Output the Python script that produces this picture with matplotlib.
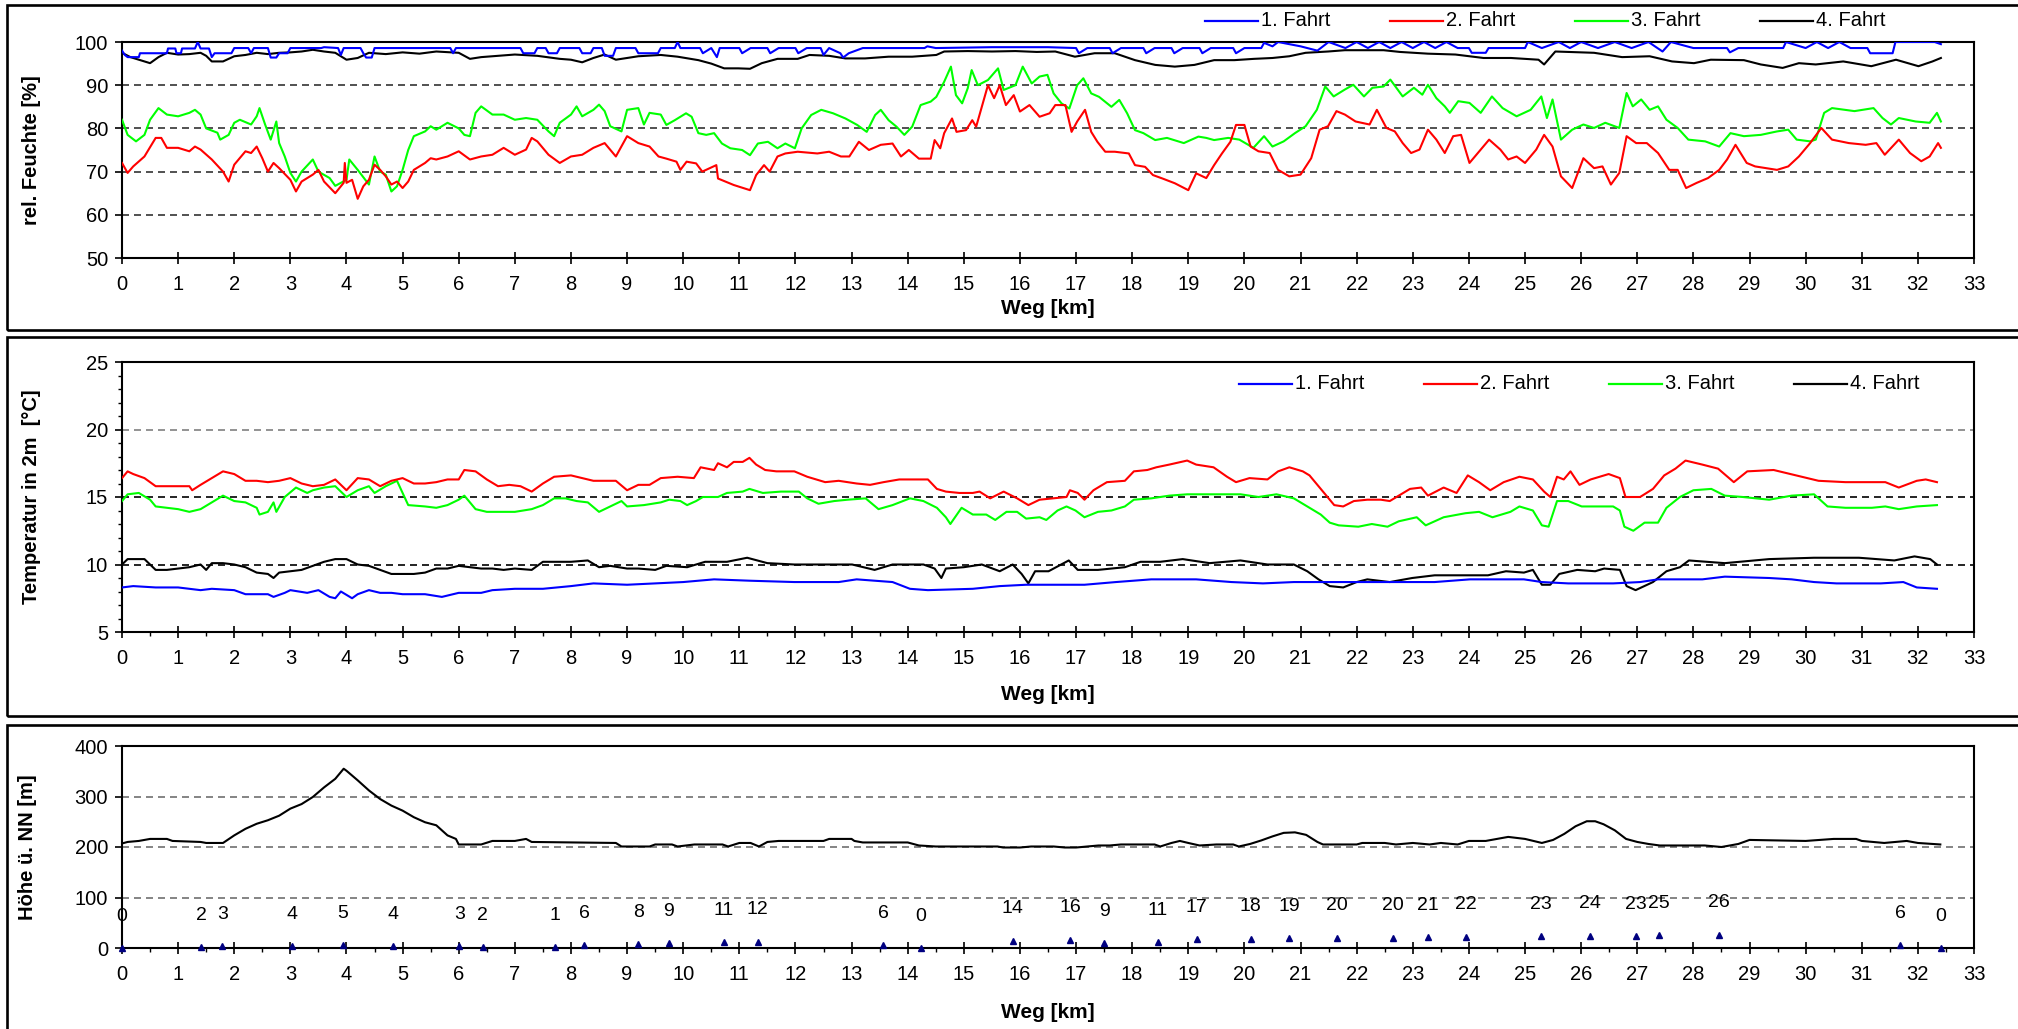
import matplotlib
matplotlib.use("Agg")
import matplotlib.pyplot as plt
from matplotlib.lines import Line2D
from matplotlib.patches import Rectangle
from matplotlib.ticker import MultipleLocator

plt.rcParams['font.family'] = ['Liberation Sans', 'DejaVu Sans']

# ---------------- data: relative humidity [%] ----------------
rh1_km = [0.0,0.05,0.1,0.3,0.32,0.8,0.82,0.95,0.97,1.05,1.07,1.3,1.35,1.4,1.55,1.6,1.65,1.95,2.0,2.25,2.3,2.35,2.6,2.65,2.75,2.8,2.95,3.0,3.55,3.6,3.85,3.9,3.95,4.25,4.3,4.35,4.45,4.5,5.85,5.9,5.95,7.1,7.15,7.35,7.4,7.55,7.6,7.75,7.8,8.15,8.2,8.35,8.4,8.55,8.6,8.75,8.8,9.15,9.2,9.55,9.6,9.85,9.9,9.95,10.3,10.35,10.5,10.6,10.65,11.0,11.05,11.2,11.5,11.55,11.7,12.0,12.05,12.2,12.45,12.5,12.6,12.8,12.85,12.95,13.2,14.3,14.35,14.5,15.5,16.5,17.0,17.05,17.2,17.6,17.65,17.8,18.2,18.25,18.4,18.7,18.75,18.9,19.2,19.25,19.4,19.8,19.85,20.0,20.3,20.35,20.5,20.6,21.0,21.3,21.5,21.8,22.0,22.2,22.4,22.6,22.8,23.0,23.2,23.4,23.6,23.8,24.0,24.05,24.3,24.35,25.0,25.05,25.3,25.6,25.8,26.0,26.3,26.6,26.9,27.2,27.45,27.6,28.0,28.6,28.65,28.8,29.6,29.65,30.0,30.2,30.4,30.6,30.8,31.1,31.15,31.55,31.6,32.3,32.41]
rh1 = [98.0,97.0,96.5,96.5,97.4,97.4,98.5,98.5,97.4,97.4,98.5,98.5,100.0,98.5,98.5,96.5,97.4,97.4,98.6,98.6,97.4,98.6,98.6,96.4,96.4,97.4,97.4,98.6,98.6,98.8,98.6,97.0,98.6,98.6,97.4,96.4,96.4,98.6,98.6,97.4,98.6,98.6,97.4,97.4,98.6,98.6,97.4,97.4,98.6,98.6,97.4,97.4,98.6,98.6,96.8,96.8,98.6,98.6,97.4,97.4,98.6,98.6,100.0,98.6,98.6,97.4,98.6,96.5,98.6,98.6,97.4,98.6,98.6,97.4,98.6,98.6,97.4,98.6,98.6,97.0,98.6,97.4,96.4,97.4,98.6,98.6,99.0,98.6,98.8,98.8,98.6,97.4,98.6,98.6,97.4,98.6,98.6,97.4,98.6,98.6,97.4,98.6,98.6,97.4,98.6,98.6,97.4,98.6,98.6,99.8,99.0,100.0,99.0,98.0,100.0,98.6,100.0,98.6,100.0,98.6,100.0,98.6,100.0,98.6,100.0,98.6,98.6,97.5,97.5,98.6,98.6,100.0,98.6,100.0,98.6,100.0,98.6,100.0,98.6,100.0,97.8,100.0,98.6,98.6,97.6,98.6,98.6,100.0,98.6,100.0,98.6,100.0,98.6,98.6,97.4,97.4,100.0,100.0,99.5]

rh2_km = [0.0,0.1,0.2,0.4,0.6,0.7,0.8,1.0,1.2,1.3,1.4,1.6,1.8,1.9,2.0,2.2,2.3,2.4,2.5,2.6,2.7,2.8,3.0,3.1,3.2,3.4,3.5,3.6,3.8,3.95,3.97,4.0,4.1,4.2,4.3,4.4,4.5,4.6,4.7,4.8,4.9,5.0,5.1,5.2,5.4,5.5,5.6,5.8,6.0,6.2,6.4,6.6,6.8,7.0,7.2,7.3,7.4,7.6,7.8,8.0,8.2,8.4,8.6,8.8,9.0,9.2,9.4,9.56,9.7,9.88,9.95,10.06,10.23,10.34,10.59,10.62,10.9,11.19,11.3,11.44,11.54,11.68,11.82,12.04,12.39,12.6,12.81,12.96,13.13,13.31,13.52,13.73,13.88,14.02,14.2,14.41,14.48,14.58,14.65,14.79,14.87,15.04,15.15,15.22,15.33,15.43,15.54,15.64,15.75,15.89,16.0,16.17,16.35,16.53,16.63,16.81,16.92,17.02,17.16,17.27,17.38,17.52,17.69,17.94,18.05,18.23,18.37,18.54,18.76,19.0,19.14,19.32,19.46,19.6,19.75,19.85,20.0,20.11,20.25,20.45,20.6,20.8,21.0,21.19,21.34,21.49,21.64,21.79,21.98,22.23,22.36,22.53,22.68,22.82,22.97,23.12,23.27,23.42,23.57,23.72,23.86,24.01,24.16,24.36,24.56,24.7,24.85,25.0,25.2,25.34,25.49,25.64,25.84,26.04,26.23,26.38,26.53,26.68,26.81,26.98,27.17,27.37,27.57,27.72,27.87,28.06,28.26,28.46,28.6,28.75,28.95,29.1,29.3,29.49,29.69,29.88,30.08,30.28,30.47,30.77,31.07,31.26,31.41,31.66,31.86,32.06,32.21,32.36,32.41]
rh2 = [72.0,69.7,71.2,73.5,77.8,77.8,75.5,75.5,74.7,75.8,75.1,72.8,70.0,67.7,71.6,74.7,74.3,75.8,73.1,70.0,72.0,70.8,68.1,65.4,67.7,69.3,70.4,67.7,65.0,67.4,72.0,67.4,68.1,63.7,66.6,68.1,71.6,70.4,68.9,67.0,67.7,66.2,67.7,70.4,72.0,73.1,72.8,73.5,74.7,72.8,73.5,73.9,75.5,73.9,75.1,77.8,77.0,73.9,72.0,73.5,73.9,75.5,76.6,73.5,78.2,76.6,75.8,73.5,73.0,72.3,70.4,72.3,71.9,70.0,71.5,68.4,66.9,65.7,69.2,71.5,70.0,73.5,74.2,74.6,74.2,74.6,73.5,73.5,76.9,75.0,76.2,76.5,73.5,75.0,73.0,73.0,77.3,75.4,78.9,82.3,79.2,79.6,81.9,80.4,85.4,90.0,87.0,90.0,85.4,87.7,83.9,85.4,82.7,83.5,85.4,85.4,79.2,81.6,84.3,79.2,76.9,74.6,74.6,74.2,71.5,71.1,69.2,68.4,67.3,65.7,69.6,68.5,71.5,74.2,76.9,80.8,80.8,75.8,74.7,74.3,70.4,68.9,69.3,73.1,79.7,80.5,84.0,83.2,81.6,80.9,84.3,80.1,79.3,76.6,74.3,75.1,79.7,77.4,74.3,78.2,78.5,72.0,74.3,77.4,75.1,72.8,73.5,72.0,75.1,78.5,75.8,68.9,66.2,73.1,70.8,71.2,67.0,69.7,78.2,76.6,76.6,74.3,70.4,70.4,66.2,67.4,68.5,70.4,72.8,76.2,72.0,71.2,70.8,70.4,71.2,73.5,76.6,80.1,77.4,76.6,76.2,76.6,73.9,77.4,74.3,72.4,73.5,76.6,75.5]

rh3_km = [0.0,0.1,0.25,0.4,0.5,0.65,0.8,1.0,1.2,1.3,1.4,1.5,1.7,1.75,1.9,2.0,2.1,2.3,2.4,2.45,2.55,2.65,2.75,2.8,2.9,3.0,3.1,3.2,3.4,3.5,3.7,3.8,4.0,4.05,4.2,4.4,4.5,4.6,4.7,4.8,4.9,5.0,5.1,5.2,5.4,5.5,5.6,5.8,6.0,6.1,6.2,6.3,6.4,6.6,6.8,7.0,7.2,7.4,7.6,7.7,7.8,8.0,8.1,8.2,8.4,8.5,8.6,8.7,8.9,9.0,9.2,9.3,9.4,9.6,9.7,9.85,10.05,10.15,10.27,10.41,10.55,10.69,10.84,11.05,11.19,11.33,11.51,11.68,11.82,11.99,12.11,12.28,12.46,12.67,12.89,13.1,13.27,13.42,13.52,13.66,13.8,13.94,14.08,14.23,14.41,14.51,14.65,14.77,14.86,14.97,15.07,15.14,15.25,15.43,15.61,15.71,15.92,16.05,16.21,16.35,16.49,16.6,16.74,16.88,17.02,17.13,17.27,17.41,17.63,17.77,17.91,18.05,18.2,18.41,18.62,18.92,19.18,19.32,19.46,19.71,19.91,20.16,20.35,20.5,20.7,20.9,21.09,21.29,21.44,21.59,21.79,21.94,22.13,22.28,22.48,22.6,22.82,23.02,23.17,23.27,23.42,23.57,23.66,23.81,24.01,24.21,24.41,24.6,24.85,25.1,25.29,25.39,25.49,25.64,25.84,26.04,26.23,26.43,26.68,26.81,26.92,27.07,27.22,27.37,27.52,27.72,27.91,28.21,28.46,28.66,28.9,29.2,29.49,29.69,29.84,30.08,30.18,30.33,30.47,30.87,31.21,31.37,31.52,31.66,31.96,32.21,32.34,32.41]
rh3 = [82.0,78.5,77.0,78.5,82.0,84.7,83.2,82.8,83.6,84.3,83.2,80.0,79.0,77.4,78.5,81.3,82.0,80.9,82.8,84.7,80.9,77.4,81.6,76.6,73.5,69.7,67.7,70.0,72.8,70.0,68.5,66.7,68.1,72.8,70.4,67.0,73.5,70.0,69.3,65.4,66.6,70.4,75.0,78.2,79.3,80.5,79.7,81.3,80.0,78.5,78.2,83.6,85.1,83.2,83.2,82.0,82.4,82.0,79.3,78.2,81.3,83.2,85.1,82.8,84.3,85.5,84.0,80.5,79.3,84.3,84.7,80.9,83.6,83.2,80.8,81.9,83.5,82.7,78.9,78.5,78.9,76.5,75.4,75.0,73.8,76.5,76.9,75.4,76.5,75.4,80.0,83.1,84.3,83.5,82.3,80.8,79.2,83.1,84.3,81.9,80.4,78.5,80.4,85.4,86.2,87.3,90.8,94.3,87.7,85.8,89.3,93.5,90.0,91.2,93.9,88.9,90.0,94.3,90.4,92.0,92.4,88.1,85.8,84.6,90.0,91.6,88.1,87.3,85.0,86.6,83.5,79.6,78.9,77.3,77.8,76.6,78.1,77.8,77.3,77.8,77.4,75.5,78.2,75.8,77.0,78.9,80.5,84.3,89.7,87.4,89.0,90.1,87.4,89.4,89.7,91.3,87.4,89.4,87.8,90.1,87.0,85.1,83.6,86.3,85.9,83.6,87.4,84.7,82.8,84.3,87.4,82.4,86.7,77.4,79.7,80.9,80.1,81.3,80.1,88.2,85.1,86.7,84.3,85.1,82.0,80.1,77.4,77.0,75.8,78.9,78.2,78.5,79.3,79.7,77.4,77.0,77.4,83.6,84.7,84.0,84.7,82.4,80.9,82.4,81.6,81.3,83.6,81.6]

rh4_km = [0.0,0.15,0.3,0.5,0.65,0.8,1.0,1.2,1.4,1.5,1.6,1.8,2.0,2.2,2.4,2.6,2.8,3.0,3.2,3.4,3.6,3.8,4.0,4.2,4.4,4.7,5.0,5.3,5.6,6.0,6.2,6.4,6.6,7.0,7.4,7.8,8.0,8.2,8.4,8.6,8.8,9.0,9.2,9.6,9.9,10.27,10.5,10.73,10.98,11.19,11.4,11.68,12.04,12.25,12.6,12.89,13.24,13.66,14.08,14.51,14.65,15.07,15.5,15.92,16.3,16.63,16.98,17.33,17.69,18.05,18.41,18.76,19.11,19.46,19.82,20.17,20.5,20.8,21.09,21.49,21.79,22.48,22.77,23.27,23.76,24.26,24.75,25.24,25.34,25.54,26.23,26.73,27.22,27.62,28.01,28.31,28.9,29.2,29.59,29.88,30.18,30.67,31.17,31.61,32.01,32.26,32.41]
rh4 = [97.5,96.5,95.9,95.1,96.5,97.5,97.1,97.2,97.5,96.8,95.5,95.5,96.7,97.0,97.5,97.2,97.5,97.6,97.8,98.2,97.8,97.5,95.9,96.3,97.5,97.2,97.6,97.3,97.8,97.5,96.1,96.5,96.7,97.1,96.8,96.1,95.9,95.3,96.3,97.1,95.9,96.3,96.7,97.0,96.6,95.8,95.0,93.9,93.9,93.8,95.1,96.1,96.1,97.0,96.8,96.2,96.2,96.6,96.6,97.0,97.8,97.9,97.8,97.9,97.7,97.8,96.6,97.4,97.4,95.8,94.7,94.3,94.7,95.8,95.8,96.1,96.3,96.7,97.5,97.8,98.1,98.1,97.7,97.3,97.1,96.3,96.3,95.9,94.8,97.8,97.5,96.5,96.7,95.5,95.1,95.9,95.8,94.8,94.0,95.1,94.8,95.5,94.4,95.9,94.4,95.5,96.3]

# ---------------- data: temperature in 2 m [°C] ----------------
t1_km = [0.0,0.2,0.6,1.0,1.4,1.6,2.0,2.2,2.6,2.7,2.9,3.0,3.3,3.5,3.7,3.8,3.9,4.1,4.2,4.4,4.6,4.8,5.0,5.4,5.7,6.0,6.4,6.6,7.0,7.5,8.0,8.4,9.0,9.5,10.0,10.55,11.18,11.98,12.77,13.09,13.73,14.04,14.36,15.16,15.64,16.11,16.43,17.15,17.71,18.34,19.14,19.77,20.33,20.88,21.52,22.59,23.39,24.02,24.98,25.3,25.77,26.57,27.05,27.37,28.16,28.56,29.35,29.75,30.15,30.55,31.34,31.74,31.98,32.34]
t1 = [8.3,8.4,8.3,8.3,8.1,8.2,8.1,7.8,7.8,7.6,7.9,8.1,7.9,8.1,7.6,7.5,8.0,7.5,7.8,8.1,7.9,7.9,7.8,7.8,7.6,7.9,7.9,8.1,8.2,8.2,8.4,8.6,8.5,8.6,8.7,8.9,8.8,8.7,8.7,8.9,8.7,8.2,8.1,8.2,8.4,8.5,8.5,8.5,8.7,8.9,8.9,8.7,8.6,8.7,8.7,8.7,8.7,8.9,8.9,8.7,8.6,8.6,8.7,8.9,8.9,9.1,9.0,8.9,8.7,8.6,8.6,8.7,8.3,8.2]

t2_km = [0.0,0.1,0.2,0.4,0.6,0.8,1.0,1.2,1.25,1.4,1.6,1.8,2.0,2.2,2.4,2.6,2.8,3.0,3.2,3.4,3.6,3.8,4.0,4.2,4.4,4.6,4.8,5.0,5.2,5.4,5.6,5.8,6.0,6.1,6.3,6.5,6.7,6.9,7.1,7.3,7.5,7.7,8.0,8.2,8.4,8.6,8.8,9.0,9.2,9.4,9.6,9.9,10.19,10.31,10.55,10.62,10.78,10.9,11.06,11.18,11.3,11.46,11.66,11.98,12.21,12.53,12.77,13.09,13.33,13.57,13.85,14.12,14.36,14.52,14.68,14.92,15.16,15.28,15.47,15.71,15.95,16.15,16.35,16.59,16.83,16.89,17.03,17.15,17.31,17.55,17.87,18.03,18.27,18.43,18.66,18.98,19.14,19.45,19.69,19.85,20.09,20.41,20.6,20.8,21.04,21.16,21.32,21.48,21.6,21.76,21.95,22.19,22.43,22.59,22.83,22.95,23.15,23.27,23.55,23.78,23.98,24.18,24.38,24.62,24.9,25.14,25.34,25.45,25.57,25.69,25.81,25.97,26.17,26.49,26.69,26.79,27.05,27.28,27.48,27.68,27.86,28.16,28.44,28.72,28.96,29.43,29.83,30.23,30.71,31.18,31.42,31.66,31.98,32.14,32.34]
t2 = [16.4,16.9,16.7,16.4,15.8,15.8,15.8,15.8,15.5,15.9,16.4,16.9,16.7,16.2,16.2,16.1,16.2,16.4,16.0,15.8,15.9,16.3,15.5,16.4,16.3,15.8,16.2,16.4,16.0,16.0,16.1,16.3,16.3,17.0,16.9,16.3,15.8,15.9,15.8,15.4,16.0,16.5,16.6,16.4,16.2,16.2,16.2,15.5,15.9,15.9,16.4,16.5,16.4,17.2,17.0,17.5,17.2,17.6,17.6,17.9,17.4,17.0,16.9,16.9,16.5,16.1,16.2,16.0,15.9,16.1,16.3,16.3,16.3,15.6,15.4,15.3,15.3,15.4,14.9,15.4,14.9,14.4,14.8,14.9,15.0,15.5,15.3,14.8,15.5,16.1,16.2,16.9,17.0,17.2,17.4,17.7,17.4,17.2,16.5,16.1,16.4,16.3,16.9,17.2,16.9,16.6,15.8,15.0,14.4,14.3,14.7,14.8,14.8,14.7,15.3,15.6,15.7,15.1,15.7,15.3,16.6,16.1,15.5,16.1,16.5,16.3,15.4,15.0,16.5,16.3,16.9,15.9,16.3,16.7,16.4,15.0,15.0,15.6,16.6,17.1,17.7,17.4,17.1,16.1,16.9,17.0,16.6,16.2,16.1,16.1,16.1,15.7,16.2,16.3,16.1]

t3_km = [0.0,0.1,0.3,0.5,0.6,0.8,1.0,1.2,1.4,1.6,1.8,2.0,2.2,2.4,2.45,2.6,2.7,2.75,2.9,3.1,3.3,3.4,3.6,3.8,3.9,4.0,4.2,4.4,4.5,4.7,4.9,5.0,5.1,5.4,5.6,5.8,6.0,6.1,6.3,6.5,6.8,7.0,7.3,7.5,7.7,7.9,8.1,8.3,8.5,8.7,8.9,9.0,9.3,9.6,9.75,9.95,10.07,10.23,10.35,10.62,10.78,11.06,11.18,11.42,11.74,12.06,12.21,12.41,12.69,12.93,13.25,13.48,13.73,14.04,14.28,14.52,14.68,14.76,14.96,15.16,15.4,15.56,15.76,15.95,16.11,16.35,16.47,16.67,16.83,16.99,17.15,17.39,17.63,17.87,18.03,18.34,18.66,18.98,19.3,19.93,20.25,20.57,20.88,21.12,21.36,21.52,21.68,22.03,22.27,22.55,22.75,23.07,23.23,23.55,23.94,24.18,24.42,24.74,24.9,25.14,25.3,25.42,25.57,25.77,26.01,26.25,26.57,26.69,26.77,26.93,27.13,27.37,27.52,27.76,28.0,28.32,28.56,28.88,29.35,29.75,30.15,30.39,30.71,31.18,31.42,31.66,31.98,32.34]
t3 = [14.7,15.2,15.3,14.8,14.3,14.2,14.1,13.9,14.1,14.6,15.1,14.7,14.6,14.2,13.7,13.9,14.6,13.9,15.0,15.7,15.3,15.5,15.7,15.8,15.4,15.0,15.5,15.8,15.3,15.8,16.2,15.3,14.4,14.3,14.2,14.4,14.8,15.1,14.1,13.9,13.9,13.9,14.1,14.4,14.9,14.9,14.7,14.6,13.9,14.3,14.7,14.3,14.4,14.6,14.8,14.7,14.4,14.7,15.0,15.0,15.3,15.4,15.6,15.3,15.4,15.4,14.9,14.5,14.7,14.8,14.9,14.1,14.4,14.9,14.7,14.2,13.5,13.0,14.2,13.7,13.7,13.3,13.9,13.9,13.4,13.5,13.3,14.0,14.3,14.0,13.5,13.9,14.0,14.3,14.8,14.9,15.1,15.2,15.2,15.2,15.0,15.2,14.9,14.3,13.7,13.1,12.9,12.8,13.0,12.8,13.2,13.5,12.9,13.5,13.8,13.9,13.5,13.9,14.3,14.0,12.9,12.8,14.7,14.7,14.3,14.3,14.3,14.0,12.8,12.5,13.1,13.1,14.2,15.0,15.5,15.6,15.1,15.0,14.8,15.1,15.2,14.3,14.2,14.2,14.3,14.1,14.3,14.4]

t4_km = [0.0,0.1,0.4,0.6,0.8,1.0,1.2,1.4,1.5,1.6,1.8,2.0,2.2,2.4,2.6,2.7,2.8,3.0,3.2,3.4,3.6,3.8,4.0,4.2,4.4,4.6,4.8,5.0,5.2,5.4,5.6,5.8,6.0,6.2,6.4,6.6,6.8,7.0,7.3,7.5,7.7,8.0,8.3,8.5,8.7,9.0,9.2,9.5,9.7,10.07,10.39,10.78,11.14,11.5,11.98,12.61,13.01,13.41,13.73,14.28,14.48,14.6,14.68,15.0,15.32,15.64,15.87,16.03,16.15,16.27,16.51,16.87,17.03,17.39,17.87,18.15,18.5,18.9,19.38,19.93,20.41,20.88,21.12,21.32,21.52,21.76,22.0,22.19,22.59,22.99,23.39,23.86,24.34,24.66,24.98,25.14,25.3,25.45,25.61,25.93,26.25,26.41,26.69,26.81,26.97,27.28,27.52,27.76,27.92,28.56,29.35,30.15,30.95,31.58,31.94,32.22,32.34]
t4 = [10.0,10.4,10.4,9.6,9.6,9.7,9.8,10.0,9.6,10.1,10.1,10.0,9.8,9.4,9.3,9.0,9.4,9.5,9.6,9.9,10.2,10.4,10.4,10.0,9.9,9.6,9.3,9.3,9.3,9.4,9.7,9.7,9.9,9.8,9.7,9.7,9.6,9.7,9.6,10.2,10.2,10.2,10.3,9.8,9.9,9.7,9.7,9.6,9.9,9.8,10.2,10.2,10.5,10.1,10.0,10.0,10.0,9.6,10.0,10.0,9.7,9.0,9.7,9.8,10.0,9.5,10.0,9.3,8.6,9.5,9.5,10.3,9.6,9.6,9.8,10.2,10.2,10.4,10.1,10.3,10.0,10.0,9.5,8.9,8.4,8.3,8.7,8.9,8.7,9.0,9.2,9.2,9.2,9.5,9.4,9.6,8.5,8.5,9.3,9.6,9.5,9.7,9.6,8.4,8.1,8.7,9.5,9.8,10.3,10.1,10.4,10.5,10.5,10.3,10.6,10.4,10.0]

# ---------------- data: elevation [m] and stations ----------------
h_km = [0.0,0.1,0.3,0.5,0.8,0.9,1.4,1.5,1.8,2.0,2.2,2.4,2.6,2.8,3.0,3.2,3.4,3.6,3.8,3.95,4.0,4.2,4.4,4.6,4.8,5.0,5.2,5.4,5.6,5.8,5.95,6.0,6.4,6.6,7.0,7.2,7.3,8.8,8.9,9.4,9.5,9.8,9.9,10.2,10.7,10.8,11.0,11.2,11.35,11.5,11.7,12.5,12.6,13.0,13.05,13.2,14.0,14.2,14.5,15.6,15.7,16.0,16.2,16.6,16.8,17.0,17.4,17.6,17.8,18.4,18.5,18.7,18.85,19.0,19.2,19.5,19.8,19.9,20.1,20.3,20.5,20.7,20.9,21.1,21.3,21.4,22.0,22.1,22.5,22.7,23.0,23.3,23.5,23.8,24.0,24.3,24.5,24.7,25.0,25.3,25.5,25.7,25.9,26.1,26.25,26.4,26.6,26.8,27.0,27.2,27.4,28.2,28.5,28.8,29.0,30.0,30.5,30.9,31.0,31.4,31.8,32.0,32.4]
h = [207,210,212,216,216,212,210,208,208,223,236,246,253,262,276,285,299,318,335,355,351,332,312,295,282,272,259,249,243,223,216,205,205,212,212,216,210,208,201,201,205,205,201,205,205,201,208,208,201,210,212,212,216,216,212,209,209,203,201,201,199,199,201,201,199,199,203,203,205,205,201,208,212,208,203,205,205,201,206,213,221,228,229,224,210,205,205,208,208,205,208,205,208,205,212,212,216,220,216,208,214,226,241,251,251,245,233,216,210,206,203,203,200,206,214,212,216,216,212,208,212,208,205]

st_km = [0,1.41,1.79,3.03,3.93,4.82,6.01,6.43,7.72,8.24,9.2,9.74,10.72,11.33,13.56,14.24,15.87,16.9,17.5,18.46,19.15,20.11,20.8,21.65,22.64,23.27,23.95,25.29,26.15,26.98,27.39,28.46,31.69,32.41]
st_label = [0,2,3,4,5,4,3,2,1,6,8,9,11,12,6,0,14,16,9,11,17,18,19,20,20,21,22,23,24,23,25,26,6,0]

series_names = ['1. Fahrt', '2. Fahrt', '3. Fahrt', '4. Fahrt']
series_colors = ['#0000ff', '#ff0000', '#00ff00', '#000000']

# ---------------- layout helpers ----------------
W, H = 2018, 1029
fig = plt.figure(figsize=(W / 100, H / 100), dpi=100)

def add_ax(top, bottom, left=122, right=1974):
    return fig.add_axes([left / W, 1 - bottom / H, (right - left) / W, (bottom - top) / H])

def fx(px):
    return px / W

def fy(py):
    return 1 - py / H

# outer panel frames
for top, bottom in [(5, 330), (337, 716), (725, 1045)]:
    fig.add_artist(Rectangle((fx(7), fy(bottom)), fx(2040 - 7), (bottom - top) / H,
                             transform=fig.transFigure, fill=False, lw=1.9, ec='black'))

TICK_FS = 14.5
LAB_FS = 14.5

def style(ax, minor_x, minor_y):
    ax.set_xlim(0, 33)
    ax.xaxis.set_major_locator(MultipleLocator(1))
    for sp in ax.spines.values():
        sp.set_linewidth(1.5)
    ax.tick_params(axis='x', which='major', direction='inout', length=8, width=1.2,
                   labelsize=TICK_FS, pad=8)
    ax.tick_params(axis='y', which='major', direction='out', length=5, width=1.2,
                   labelsize=TICK_FS, pad=5)
    if minor_x:
        ax.xaxis.set_minor_locator(MultipleLocator(0.5))
        ax.tick_params(axis='x', which='minor', direction='out', length=3, width=1.0)
    if minor_y:
        ax.yaxis.set_minor_locator(MultipleLocator(minor_y))
        ax.tick_params(axis='y', which='minor', direction='out', length=3, width=1.0)

def xlabel(ax, top_px, bottom_px, y_px):
    ax.set_xlabel('Weg [km]', fontsize=LAB_FS + 0.5, fontweight='bold', va='center')
    ax.xaxis.set_label_coords(0.5, (bottom_px - y_px) / (bottom_px - top_px))

def ylabel(ax, text, x_px):
    ax.set_ylabel(text, fontsize=LAB_FS, fontweight='bold', va='center')
    ax.yaxis.set_label_coords((x_px - 122) / (1974 - 122), 0.5)

def hlines(ax, vals, color):
    for v in vals:
        ax.axhline(v, color=color, lw=1.2, ls=(0, (4.2, 3.0)), zorder=1)

def legend(y_px, x0_px):
    for i, (name, col) in enumerate(zip(series_names, series_colors)):
        x = x0_px + 185 * i
        fig.add_artist(Line2D([fx(x), fx(x + 53)], [fy(y_px), fy(y_px)],
                              transform=fig.transFigure, color=col, lw=1.6))
        fig.text(fx(x + 56), fy(y_px), name, fontsize=14.5, va='center', ha='left')

LW = 1.5

# ---------------- panel 1: humidity ----------------
ax1 = add_ax(42, 258)
hlines(ax1, [60, 70, 80, 90], '#333333')
for xs, ys, c in [(rh3_km, rh3, series_colors[2]), (rh2_km, rh2, series_colors[1]),
                  (rh4_km, rh4, series_colors[3]), (rh1_km, rh1, series_colors[0])]:
    ax1.plot(xs, ys, color=c, lw=LW, zorder=3)
ax1.set_ylim(50, 100)
ax1.yaxis.set_major_locator(MultipleLocator(10))
style(ax1, False, None)
xlabel(ax1, 42, 258, 309)
ylabel(ax1, 'rel. Feuchte [%]', 32)
legend(21, 1205)

# ---------------- panel 2: temperature ----------------
ax2 = add_ax(362, 632)
hlines(ax2, [20], '#808080')
hlines(ax2, [10, 15], '#000000')
for xs, ys, c in [(t3_km, t3, series_colors[2]), (t2_km, t2, series_colors[1]),
                  (t4_km, t4, series_colors[3]), (t1_km, t1, series_colors[0])]:
    ax2.plot(xs, ys, color=c, lw=LW, zorder=3)
ax2.set_ylim(5, 25)
ax2.yaxis.set_major_locator(MultipleLocator(5))
style(ax2, True, 1)
xlabel(ax2, 362, 632, 695)
ylabel(ax2, 'Temperatur in 2m  [°C]', 32)
legend(384, 1239)

# ---------------- panel 3: elevation ----------------
ax3 = add_ax(746, 948)
hlines(ax3, [100, 200, 300], '#707070')
ax3.plot(h_km, h, color='black', lw=LW, zorder=3)
ax3.plot(st_km, st_label, ls='none', marker='^', ms=5, color='#000080', zorder=4, clip_on=False)
for xk, lab in zip(st_km, st_label):
    ax3.annotate(str(lab), (xk, lab), xytext=(0, 23), textcoords='offset points',
                 ha='center', va='center', fontsize=14)
ax3.set_ylim(0, 400)
ax3.yaxis.set_major_locator(MultipleLocator(100))
style(ax3, True, None)
xlabel(ax3, 746, 948, 1013)
ylabel(ax3, 'Höhe ü. NN [m]', 28)

fig.savefig('out.png', dpi=100)
